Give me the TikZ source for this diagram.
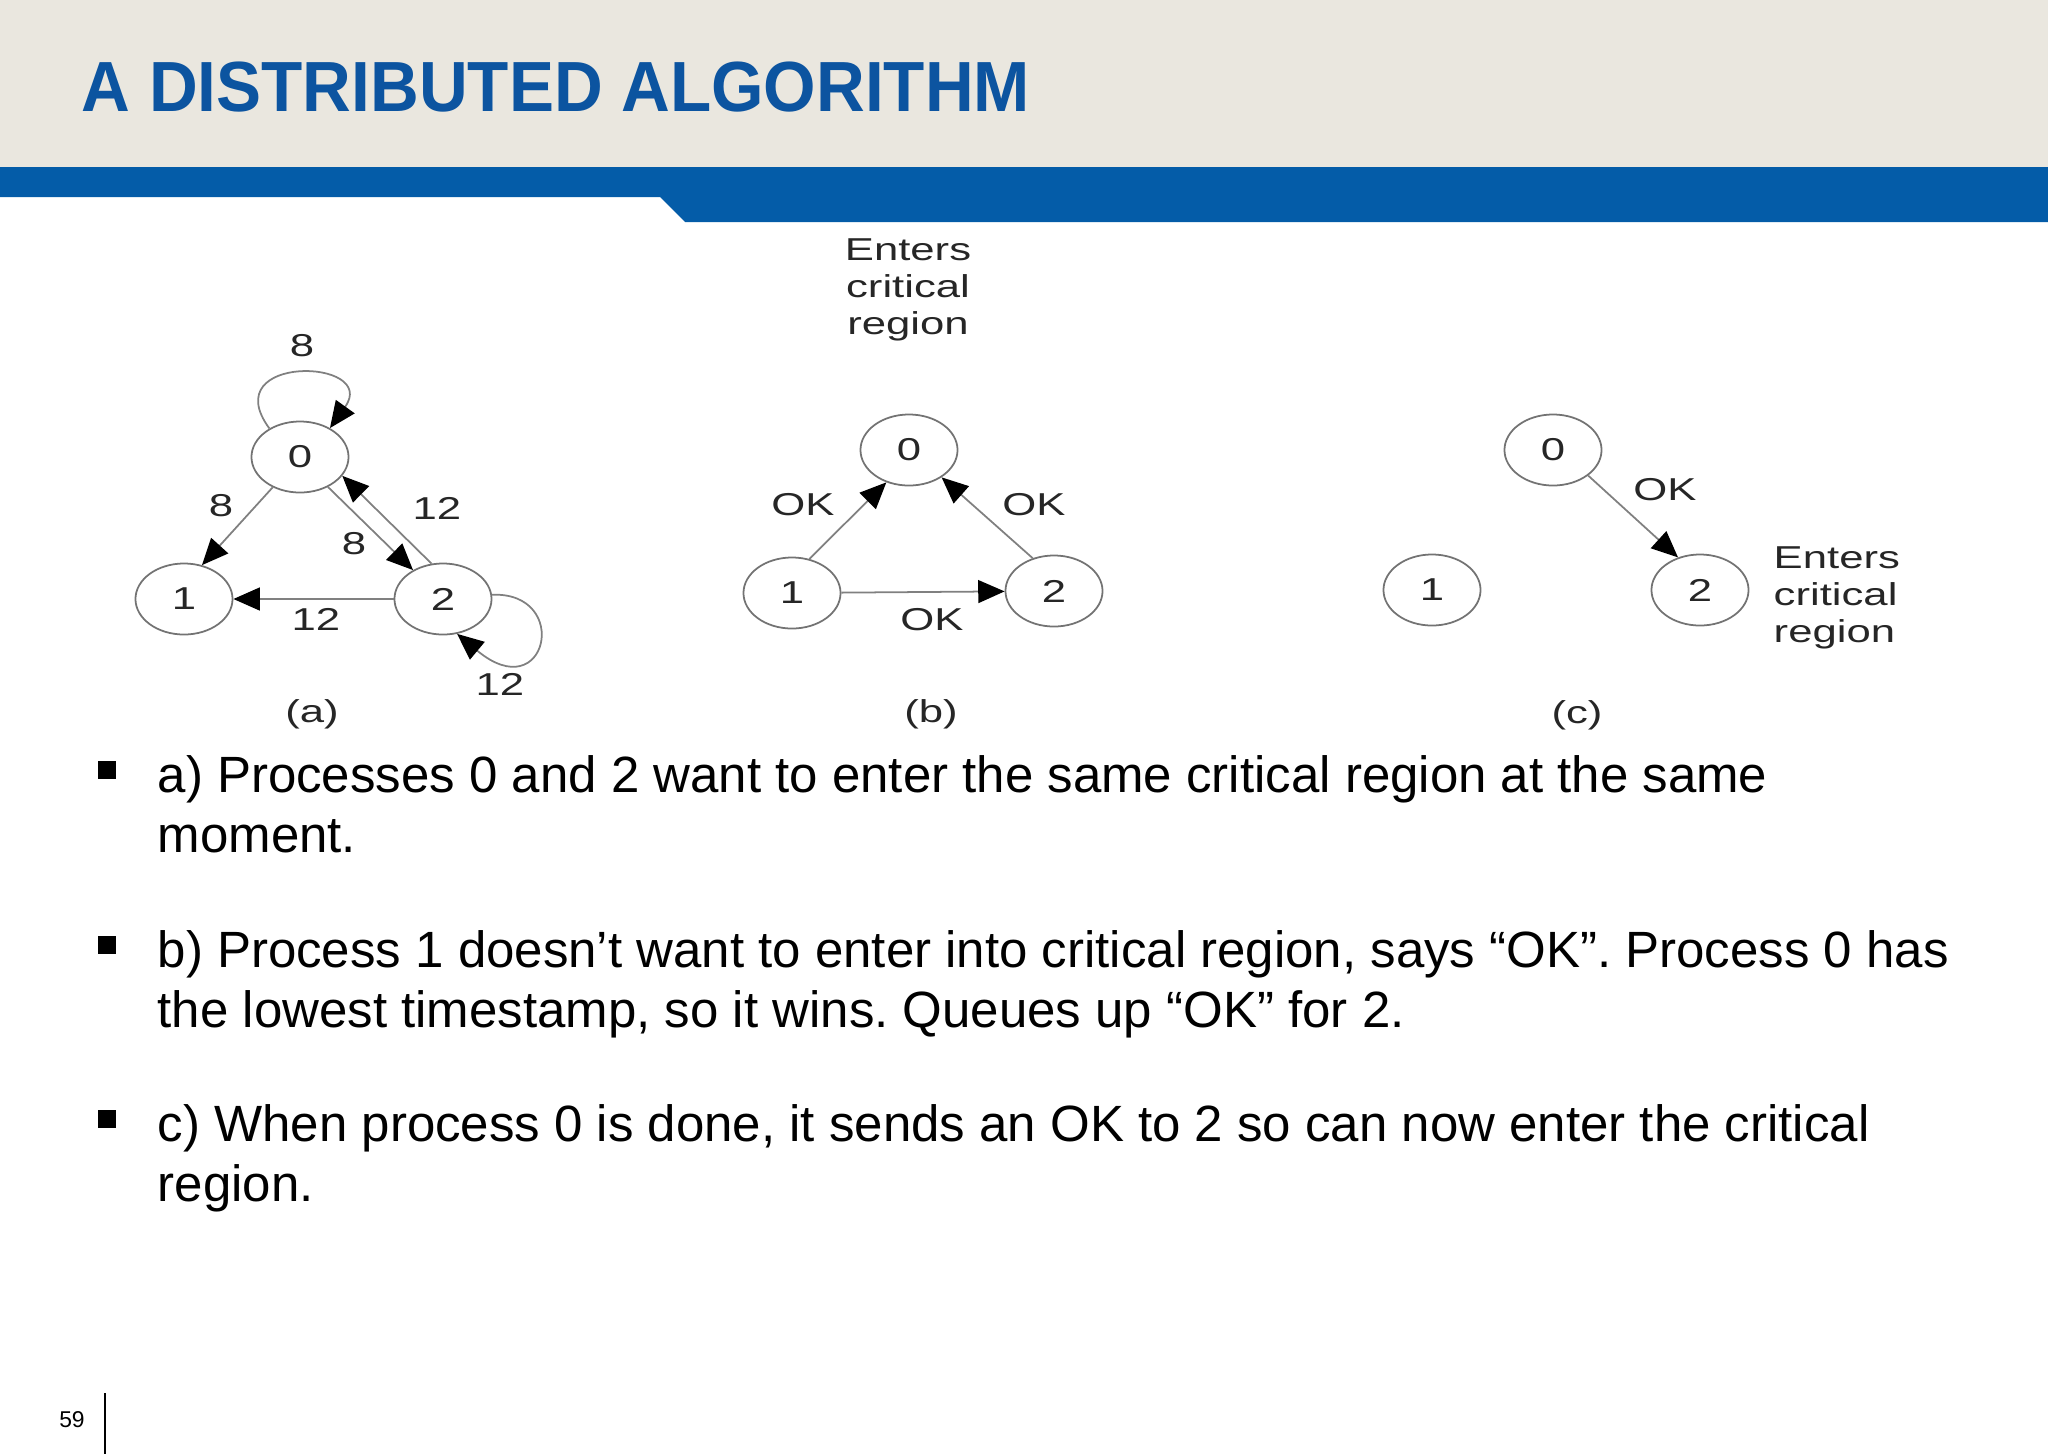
\documentclass[tikz,border=0pt]{standalone}
\usepackage{fontspec}
\usetikzlibrary{shapes.geometric,arrows.meta}
\setmainfont{Liberation Sans}
\newfontfamily\figfont[FakeStretch=1.38]{Liberation Sans}
\newfontfamily\titlefont[FakeStretch=0.95]{Liberation Sans}
\definecolor{paper}{RGB}{234,231,223}
\definecolor{band}{RGB}{4,92,168}
\definecolor{titleblue}{RGB}{12,84,160}
\frenchspacing

\begin{document}
\begin{tikzpicture}[x=0.01cm, y=-0.01cm,
    proc/.style={draw=gray!90!black, line width=0.5pt, ellipse, minimum width=0.97cm, minimum height=0.71cm, inner sep=0pt, font=\figfont\fontsize{9}{10}\selectfont, text=black!85},
    lbl/.style={inner sep=0pt, font=\figfont\fontsize{9}{10.5}\selectfont, text=black!85},
    msg/.style={draw=gray, line width=0.5pt, -{Triangle[length=7.5pt,width=6.5pt,color=black]}},
    item/.style={anchor=base west, inner sep=0pt, font=\fontsize{14.5}{17}\selectfont},
    sqr/.style={fill=black, minimum size=0.18cm, inner sep=0pt}]
    \useasboundingbox (0,0) rectangle (2048,1454);

    % header
    \fill[paper] (0,0) rectangle (2048,167);
    \fill[band] (0,167) -- (2048,167) -- (2048,222) -- (685,222) -- (660,197) -- (0,197) -- cycle;
    \node[anchor=base west, inner sep=0pt, text=titleblue, font=\titlefont\bfseries\fontsize{20.2}{24}\selectfont] (title) at (81,111) {A DISTRIBUTED ALGORITHM};

    % (a)
    \node[proc] (a0) at (300,457) {0};
    \node[proc] (a1) at (184,599) {1};
    \node[proc] (a2) at (443,599) {2};
    \draw[msg] (a0.-132) -- (a1.62);
    \draw[msg] (a0.-47) -- (a2.136);
    \draw[msg] (a2.108) -- (a0.-24);
    \draw[msg] (a2) -- (a1);
    \draw[msg] (a0.137) .. controls +(-55,-75) and +(50,-70) .. (a0.44);
    \draw[msg] (a2.5) .. controls +(80,-3) and +(90,75) .. (a2.-68);
    \node[lbl] (a0self) at (302,346) {8};
    \node[lbl] (a01) at (221,506) {8};
    \node[lbl] (a02) at (354,544) {8};
    \node[lbl] (a20) at (437,508) {12};
    \node[lbl] (a21) at (316,619) {12};
    \node[lbl] (a2self) at (500,684) {12};
    \node[lbl] (capa) at (312,714) {(a)};

    % (b)
    \node[proc] (b0) at (909,450) {0};
    \node[proc] (b1) at (792,593) {1};
    \node[proc] (b2) at (1054,591) {2};
    \draw[msg] (b1.63) -- (b0.-125);
    \draw[msg] (b2.123) -- (b0.-40);
    \draw[msg] (b1) -- (b2);
    \node[lbl] (b10) at (803,505) {OK};
    \node[lbl] (b20) at (1034,505) {OK};
    \node[lbl] (b12) at (932,620) {OK};
    \node[lbl, align=center] (enterb) at (908,290) {Enters\\critical\\region};
    \node[lbl] (capb) at (931,714) {(b)};

    % (c)
    \node[proc] (c0) at (1553,450) {0};
    \node[proc] (c1) at (1432,590) {1};
    \node[proc] (c2) at (1700,590) {2};
    \draw[msg] (c0.-36) -- (c2.124);
    \node[lbl] (c02) at (1665,490) {OK};
    \node[lbl, align=left, anchor=west] (enterc) at (1773,598) {Enters\\critical\\region};
    \node[lbl] (capc) at (1577,715) {(c)};

    % bullets
    \node[sqr] (sqa) at (107,770) {};
    \node[item] (ta1) at (157,792) {a) Processes 0 and 2 want to enter the same critical region at the same};
    \node[item] (ta2) at (157,852) {moment.};
    \node[sqr] (sqb) at (107,945) {};
    \node[item] (tb1) at (157,967) {b) Process 1 doesn’t want to enter into critical region, says “OK”. Process 0 has};
    \node[item] (tb2) at (157,1027) {the lowest timestamp, so it wins. Queues up “OK” for 2.};
    \node[sqr] (sqc) at (107,1119) {};
    \node[item] (tc1) at (157,1141) {c) When process 0 is done, it sends an OK to 2 so can now enter the critical};
    \node[item] (tc2) at (157,1201) {region.};

    % footer
    \node[inner sep=0pt, font=\fontsize{6.5}{8}\selectfont] (pnum) at (72,1420) {59};
    \draw[line width=0.6pt] (105,1393) -- (105,1454);
\end{tikzpicture}
\end{document}
